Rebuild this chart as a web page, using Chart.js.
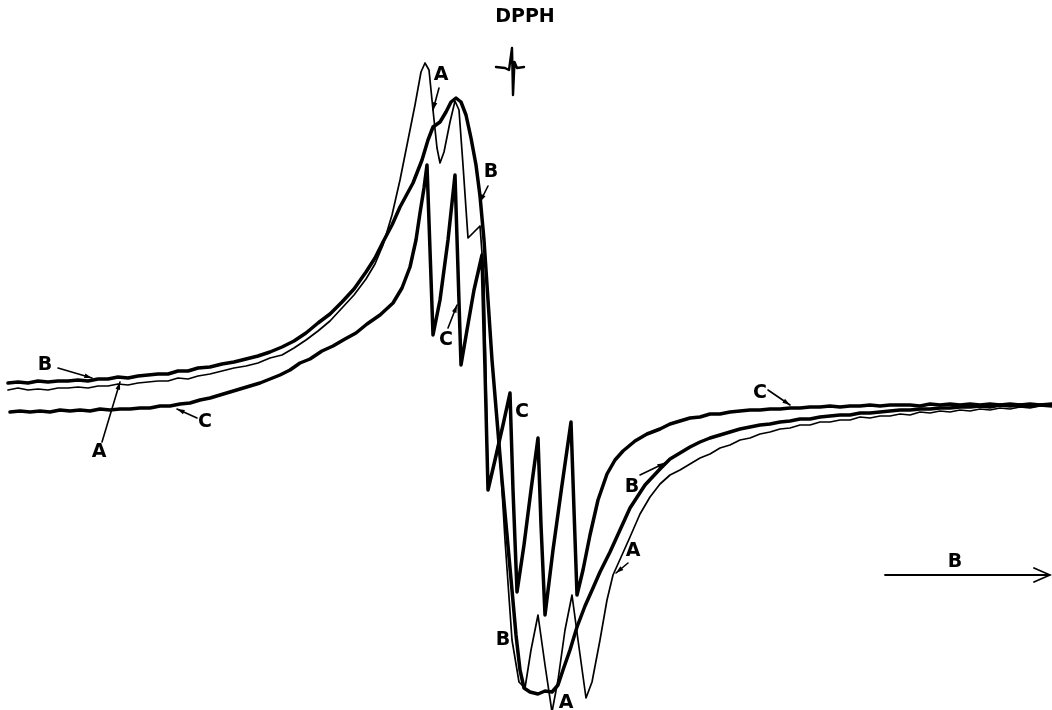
<!DOCTYPE html>
<html>
<head>
<meta charset="utf-8">
<title>EPR spectra A, B, C</title>
<script src="https://cdn.jsdelivr.net/npm/chart.js@4.4.1/dist/chart.umd.min.js"></script>
<style>
  html, body { margin: 0; padding: 0; background: #fff; }
  #wrap { width: 1052px; height: 710px; position: relative; }
</style>
</head>
<body>
<div id="wrap"><canvas id="spectrum"></canvas></div>
<script>
// field positions (arbitrary units) and recorder deflection for each trace
const fieldA = [8,18,28,38,48,58,68,78,88,98,108,118,128,138,148,158,168,178,188,198,210,222,234,246,258,270,282,294,306,318,330,342,354,366,375,383,392,400,408,415,421,425,429,433,437,440,444,450,455,459,463,468,474,480,484,486,488,493,499,505,512,519,525,531,538,545,552,558,565,572,578,586,592,600,607,613,622,630,640,650,660,670,680,690,700,710,720,730,740,750,760,770,780,790,800,810,820,830,840,850,860,870,880,890,900,910,920,930,940,950,960,970,980,990,1000,1010,1020,1030,1040,1052];
const signalA = [20,22,20,21,20,22,22,23,22,24,24,26,25,27,28,29,29,32,31,34,36,39,42,44,47,52,55,62,70,79,89,102,115,131,146,165,195,230,270,305,338,347,340,300,262,247,258,288,309,300,245,172,178,184,130,30,-78,-58,-30,-130,-230,-272,-278,-240,-205,-255,-302,-270,-220,-185,-230,-288,-272,-230,-190,-165,-145,-127,-104,-87,-74,-65,-60,-54,-48,-44,-38,-35,-30,-28,-24,-22,-19,-18,-15,-15,-12,-12,-10,-10,-7,-8,-6,-6,-4,-5,-2,-3,-1,-2,0,-1,1,0,2,1,3,2,4,3];

const fieldB = [8,18,28,38,48,58,68,78,88,98,108,118,128,138,148,158,168,178,188,198,210,222,234,246,258,270,282,294,306,318,330,342,354,366,375,383,392,400,413,422,428,433,440,446,451,456,461,466,471,476,480,484,488,492,497,502,507,512,516,520,524,530,538,545,552,558,563,570,577,585,593,600,610,620,630,645,660,670,680,690,700,710,720,730,740,750,760,770,780,790,800,810,820,830,840,850,860,870,880,890,900,910,920,930,940,950,960,970,980,990,1000,1010,1020,1030,1040,1052];
const signalB = [27,28,27,29,28,29,29,30,29,31,31,33,32,34,35,36,36,39,39,42,43,46,48,51,54,58,63,69,77,87,96,108,121,138,152,168,185,203,227,250,270,283,288,298,308,312,308,295,272,245,214,170,110,50,-10,-70,-125,-180,-225,-260,-278,-282,-284,-281,-282,-275,-260,-240,-217,-196,-178,-162,-142,-120,-98,-75,-59,-49,-43,-37,-32,-28,-25,-22,-19,-17,-15,-14,-12,-11,-9,-9,-7,-6,-5,-5,-3,-3,-2,-1,0,0,1,1,2,2,3,3,4,3,5,4,5,4,5,5];

const fieldC = [10,20,30,40,50,60,70,80,90,100,110,120,130,140,150,160,170,180,190,200,210,220,230,240,250,260,270,280,290,300,310,322,333,345,356,367,380,393,402,410,416,420,424,427,430,433,440,448,455,458,461,467,474,482,485,488,495,503,510,513,517,524,531,538,541,545,553,562,571,574,577,583,590,598,607,615,623,635,647,660,670,680,690,700,710,720,730,740,750,760,770,780,790,800,810,820,830,840,850,860,870,880,890,900,910,920,930,940,950,960,970,980,990,1000,1010,1020,1030,1040,1052];
const signalC = [-2,-1,-2,-1,-2,0,-1,0,-1,1,0,1,1,2,2,4,4,6,7,10,12,15,18,21,24,27,31,35,40,47,51,59,64,71,77,86,95,107,122,143,170,197,222,245,160,75,110,170,235,140,45,80,120,155,40,-80,-50,-15,17,-80,-182,-135,-80,-28,-115,-205,-140,-75,-12,-100,-185,-160,-125,-90,-64,-50,-41,-31,-24,-19,-14,-11,-8,-7,-4,-4,-2,-1,0,0,1,1,2,2,3,3,4,3,4,4,5,4,5,5,5,4,6,5,6,5,6,5,6,5,6,5,6,5,6];

// DPPH reference line
const fieldDpph = [496,505,509,512,513,514.5,517,524];
const signalDpph = [343,342,340,362,315,348,342,343];

// text labels and their pointers
const labelText   = ['B','A','C','A','B','C','C','B','A','A','B','C','DPPH','B'];
const labelField  = [45,99,205,441,491,446,522,503,566,633,632,760,525,955];
const labelSignal = [45,-42,-12,335,238,70,-2,-230,-293,-141,-77,17,393,-152];

const pointerFrom = [[58,42],[102,-32],[197,-8],[439,322],[488,224],[448,82],[628,-153],[640,-65],[768,20]];
const pointerTo   = [[92,32],[120,28],[177,1],[433,300],[480,208],[457,105],[616,-163],[665,-53],[790,5]];

// magnetic field direction arrow
const fieldArrowStart = [885,-165];
const fieldArrowEnd   = [1050,-165];

function toPoints(xs, ys) {
    return xs.map((x, i) => ({ x: x, y: ys[i] }));
}

const annotations = {
    id: 'annotations',
    afterDatasetsDraw(chart) {
        const ctx = chart.ctx;
        const sx = chart.scales.x, sy = chart.scales.y;
        const px = v => sx.getPixelForValue(v);
        const py = v => sy.getPixelForValue(v);

        ctx.save();
        ctx.fillStyle = '#000';
        ctx.strokeStyle = '#000';
        ctx.font = 'bold 19px "DejaVu Sans", sans-serif';
        ctx.textAlign = 'center';
        ctx.textBaseline = 'middle';
        labelText.forEach((t, i) => {
            ctx.fillText(t, px(labelField[i]), py(labelSignal[i]));
        });

        // small pointers from labels to traces
        ctx.lineWidth = 1.6;
        ctx.lineCap = 'round';
        pointerFrom.forEach((f, i) => {
            const x0 = px(f[0]), y0 = py(f[1]);
            const x1 = px(pointerTo[i][0]), y1 = py(pointerTo[i][1]);
            ctx.beginPath();
            ctx.moveTo(x0, y0);
            ctx.lineTo(x1, y1);
            ctx.stroke();
            const a = Math.atan2(y1 - y0, x1 - x0);
            ctx.beginPath();
            ctx.moveTo(x1, y1);
            ctx.lineTo(x1 - 8 * Math.cos(a - 0.3), y1 - 8 * Math.sin(a - 0.3));
            ctx.lineTo(x1 - 8 * Math.cos(a + 0.3), y1 - 8 * Math.sin(a + 0.3));
            ctx.closePath();
            ctx.fill();
        });

        // field arrow
        const ax0 = px(fieldArrowStart[0]), ay = py(fieldArrowStart[1]);
        const ax1 = px(fieldArrowEnd[0]);
        ctx.lineWidth = 1.8;
        ctx.beginPath();
        ctx.moveTo(ax0, ay);
        ctx.lineTo(ax1, ay);
        ctx.moveTo(ax1 - 16, ay - 7);
        ctx.lineTo(ax1, ay);
        ctx.lineTo(ax1 - 16, ay + 7);
        ctx.stroke();
        ctx.restore();
    }
};

const traceStyle = {
    pointRadius: 0,
    tension: 0,
    borderColor: '#000',
    borderJoinStyle: 'round',
    borderCapStyle: 'round',
    fill: false
};

new Chart(document.getElementById('spectrum').getContext('2d'), {
    type: 'line',
    data: {
        datasets: [
            Object.assign({ label: 'A', data: toPoints(fieldA, signalA), borderWidth: 1.7 }, traceStyle),
            Object.assign({ label: 'B', data: toPoints(fieldB, signalB), borderWidth: 3.5 }, traceStyle),
            Object.assign({ label: 'C', data: toPoints(fieldC, signalC), borderWidth: 3.5 }, traceStyle),
            Object.assign({ label: 'DPPH', data: toPoints(fieldDpph, signalDpph), borderWidth: 2.4 }, traceStyle)
        ]
    },
    options: {
        responsive: true,
        maintainAspectRatio: false,
        animation: false,
        layout: { padding: 0 },
        plugins: {
            legend: { display: false },
            tooltip: { enabled: false }
        },
        scales: {
            x: { type: 'linear', display: false, min: 0, max: 1052 },
            y: { type: 'linear', display: false, min: -300, max: 410 }
        }
    },
    plugins: [annotations]
});
</script>
</body>
</html>
